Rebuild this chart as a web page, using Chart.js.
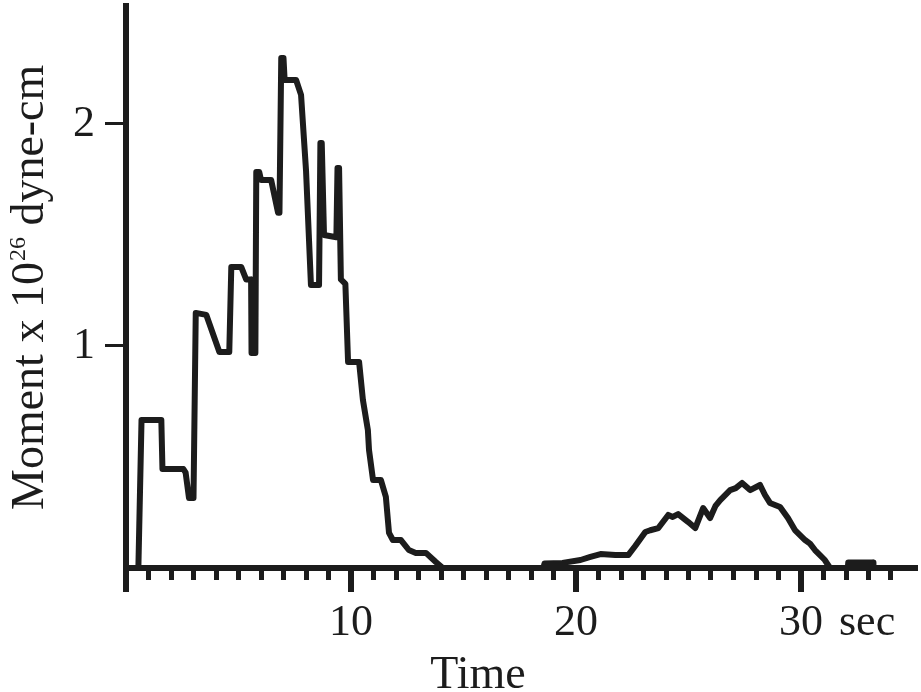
<!DOCTYPE html>
<html>
<head>
<meta charset="utf-8">
<script src="https://cdn.jsdelivr.net/npm/chart.js@4.4.1/dist/chart.umd.min.js"></script>
<style>
  html, body { margin: 0; padding: 0; background: #fff; }
  canvas { display: block; }
</style>
</head>
<body>
<canvas id="momentChart" width="921" height="692"></canvas>
<script>
// moment rate function (time in sec, moment in 10^26 dyne-cm)
var timeSec = [0.5, 0.55, 0.69, 1.57, 1.62, 2.55, 2.65, 2.8, 3.0, 3.1, 3.57, 4.15, 4.59, 4.68, 5.12, 5.34, 5.56, 5.58, 5.75, 5.79,
    5.92, 6.0, 6.45, 6.76, 6.82, 6.9, 7.0, 7.05, 7.56, 7.78, 8.0, 8.22, 8.58, 8.64, 8.7, 8.8, 9.35, 9.4, 9.47, 9.55,
    9.75, 9.87, 10.36, 10.53, 10.75, 10.8, 10.98, 11.33, 11.55, 11.69, 11.86, 12.22, 12.57, 12.88, 13.33, 13.77, 14.08,
    18.55, 18.6, 19.4, 20.2, 20.64, 21.09, 21.75, 22.33, 22.64, 23.08, 23.3, 23.66, 24.1, 24.3, 24.54, 24.99, 25.3, 25.65, 25.96,
    26.2, 26.41, 26.85, 27.1, 27.38, 27.74, 28.18, 28.4, 28.62, 29.07, 29.42, 29.73, 30.18, 30.4, 30.62, 31.06, 31.29, 32.08, 32.1, 33.2, 33.22];
var moment = [0, 0, 0.667, 0.667, 0.446, 0.446, 0.43, 0.315, 0.315, 1.149, 1.14, 0.973, 0.973, 1.356, 1.356, 1.30, 1.30, 0.968, 0.968, 1.784,
    1.784, 1.748, 1.748, 1.60, 1.60, 2.297, 2.297, 2.198, 2.198, 2.131, 1.793, 1.275, 1.275, 1.914, 1.914, 1.50, 1.49, 1.802, 1.802, 1.30,
    1.28, 0.928, 0.928, 0.757, 0.622, 0.532, 0.396, 0.396, 0.32, 0.158, 0.126, 0.126, 0.081, 0.068, 0.068, 0.027, 0,
    0, 0.02, 0.023, 0.036, 0.05, 0.063, 0.059, 0.059, 0.10, 0.162, 0.17, 0.18, 0.239, 0.23, 0.243, 0.207, 0.18, 0.27, 0.225,
    0.28, 0.306, 0.351, 0.36, 0.383, 0.351, 0.374, 0.329, 0.293, 0.275, 0.225, 0.171, 0.126, 0.11, 0.081, 0.036, 0, 0, 0.025, 0.025, 0];

var xMinorTicks = [];
for (var t = 1; t <= 34; t++) xMinorTicks.push(t);
var xMajorTicks = [10, 20, 30];
var yTicks = [1, 2];
var xMax = 35.2;
var yMax = 2.545;

var ink = '#1c1c1c';
var serif = '"Liberation Serif", "Times New Roman", serif';

var points = timeSec.map(function(t, i) { return { x: t, y: moment[i] }; });

// axes, long ticks and titles
var axesPlugin = {
    id: 'axesPlugin',
    afterDraw: function(chart) {
        var ctx = chart.ctx;
        var xs = chart.scales.x, ys = chart.scales.y;
        var left = xs.getPixelForValue(0), bottom = ys.getPixelForValue(0);
        ctx.save();
        ctx.strokeStyle = ink;
        ctx.lineCap = 'butt';
        ctx.lineWidth = 6;
        ctx.beginPath();
        ctx.moveTo(left, ys.getPixelForValue(yMax));
        ctx.lineTo(left, bottom + 24);
        ctx.moveTo(left - 3, bottom);
        ctx.lineTo(xs.getPixelForValue(xMax), bottom);
        xMajorTicks.forEach(function(v) {
            var px = xs.getPixelForValue(v);
            ctx.moveTo(px, bottom);
            ctx.lineTo(px, bottom + 24);
        });
        ctx.stroke();

        ctx.fillStyle = ink;
        ctx.font = '44px ' + serif;
        ctx.textBaseline = 'alphabetic';
        ctx.textAlign = 'left';
        ctx.fillText('sec', xs.getPixelForValue(30) + 38, 635);

        ctx.font = '46px ' + serif;
        ctx.textAlign = 'center';
        ctx.fillText('Time', 478, 688);

        // rotated y title with superscript
        ctx.translate(43, 510);
        ctx.rotate(-Math.PI / 2);
        ctx.textAlign = 'left';
        ctx.font = '46px ' + serif;
        var a = 'Moment x 10';
        ctx.fillText(a, 0, 0);
        var w = ctx.measureText(a).width;
        ctx.font = '24px ' + serif;
        ctx.fillText('26', w + 1, -18);
        w += ctx.measureText('26').width + 1;
        ctx.font = '46px ' + serif;
        ctx.fillText(' dyne-cm', w, 0);
        ctx.restore();
    }
};

var ctx = document.getElementById('momentChart');
var momentChart = new Chart(ctx, {
    type: 'line',
    data: {
        datasets: [{
            data: points,
            borderColor: ink,
            borderWidth: 6,
            borderJoinStyle: 'round',
            borderCapStyle: 'round',
            pointRadius: 0,
            tension: 0,
            fill: false,
            clip: false
        }]
    },
    options: {
        responsive: false,
        animation: false,
        layout: { padding: { top: 3, right: 3, left: 0, bottom: 0 } },
        plugins: { legend: { display: false }, tooltip: { enabled: false } },
        scales: {
            x: {
                type: 'linear',
                min: 0,
                max: xMax,
                border: { display: false },
                grid: { drawOnChartArea: false, tickLength: 12, tickWidth: 5, tickColor: ink },
                afterBuildTicks: function(s) { s.ticks = xMinorTicks.map(function(v) { return { value: v }; }); },
                afterFit: function(s) { s.height = 124; s.paddingLeft = 0; s.paddingRight = 0; },
                ticks: {
                    autoSkip: false,
                    maxRotation: 0,
                    padding: 17,
                    color: ink,
                    font: { family: serif, size: 44 },
                    callback: function(v) { return xMajorTicks.indexOf(v) >= 0 ? String(v) : ''; }
                }
            },
            y: {
                type: 'linear',
                min: 0,
                max: yMax,
                border: { display: false },
                grid: { drawOnChartArea: false, tickLength: 21, tickWidth: 3, tickColor: ink },
                afterBuildTicks: function(s) { s.ticks = yTicks.map(function(v) { return { value: v }; }); },
                afterFit: function(s) { s.width = 126; s.paddingTop = 0; s.paddingBottom = 0; },
                ticks: {
                    padding: 10,
                    color: ink,
                    font: { family: serif, size: 44 },
                    callback: function(v) { return String(v); }
                }
            }
        }
    },
    plugins: [axesPlugin]
});
</script>
</body>
</html>
